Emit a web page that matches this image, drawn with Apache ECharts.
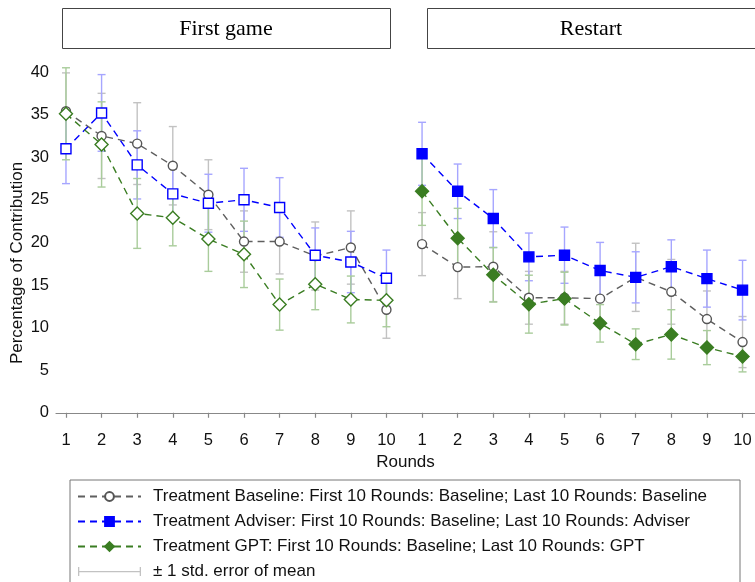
<!DOCTYPE html>
<html><head><meta charset="utf-8">
<script src="https://cdn.jsdelivr.net/npm/echarts@6/dist/echarts.min.js"></script>
<style>html,body{margin:0;padding:0;background:#fff}#c{width:755px;height:582px}</style>
</head><body><div id="c"></div>
<script>
// ---------- data ----------
const rounds = [1, 2, 3, 4, 5, 6, 7, 8, 9, 10];
const yTickValues = [0, 5, 10, 15, 20, 25, 30, 35, 40];
const panelTitles = ['First game', 'Restart'];
const seriesNames = [
  'Treatment Baseline: First 10 Rounds: Baseline; Last 10 Rounds: Baseline',
  'Treatment Adviser: First 10 Rounds: Baseline; Last 10 Rounds: Adviser',
  'Treatment GPT: First 10 Rounds: Baseline; Last 10 Rounds: GPT'
];
const errorLegendName = '± 1 std. error of mean';
const xAxisTitle = 'Rounds';
const yAxisTitle = 'Percentage of Contribution';

// First game
const baseFirst   = [35.4, 32.5, 31.6, 29.0, 25.6, 20.1, 20.1, 18.4, 19.4, 12.1];
const baseFirstSE = [4.5, 5.0, 4.8, 4.6, 4.1, 3.6, 3.8, 4.0, 4.3, 3.35];
const advFirst    = [31.0, 35.2, 29.1, 25.7, 24.6, 25.0, 24.1, 18.5, 17.7, 15.8];
const advFirstSE  = [4.1, 4.5, 4.0, 3.0, 3.4, 3.7, 3.5, 3.2, 3.6, 3.3];
const gptFirst    = [35.1, 31.5, 23.4, 22.9, 20.4, 18.6, 12.7, 15.1, 13.3, 13.2];
const gptFirstSE  = [5.4, 5.0, 4.1, 3.3, 3.8, 3.9, 3.0, 3.0, 2.75, 3.1];
// Restart
const baseRestart   = [19.8, 17.1, 17.15, 13.5, 13.5, 13.4, 15.9, 14.2, 11.0, 8.3];
const baseRestartSE = [3.7, 3.7, 4.1, 3.1, 3.1, 3.0, 4.0, 3.8, 3.3, 3.0];
const advRestart    = [30.4, 26.0, 22.8, 18.3, 18.5, 16.7, 15.9, 17.15, 15.75, 14.4];
const advRestartSE  = [3.7, 3.2, 3.4, 2.8, 3.3, 3.3, 3.0, 3.15, 3.35, 3.5];
const gptRestart    = [26.0, 20.5, 16.2, 12.75, 13.4, 10.5, 8.05, 9.2, 7.65, 6.6];
const gptRestartSE  = [4.0, 3.5, 3.2, 3.4, 3.1, 2.2, 1.8, 2.9, 2.0, 1.8];

// ---------- build ----------
const restartOffset = 10;
const xFirst = rounds;
const xRestart = rounds.map(r => r + restartOffset);
const xTickValues = xFirst.concat(xRestart);

const pts = (xs, ys) => xs.map((x, i) => [x, ys[i]]);
const errs = (xs, ys, se) => xs.map((x, i) => [x, ys[i] - se[i], ys[i] + se[i]]);

const GREY = '#5f5f5f', BLUE = '#0000ff', GREEN = '#3a7d22';
const GREY_E = '#c2c2c2', BLUE_E = '#a6a6ff', GREEN_E = '#a9cc9b';
const DASH = [7, 5];

function errSeries(name, data, color) {
  return {
    type: 'custom', name, data, z: 1, silent: true,
    itemStyle: { color },
    encode: { x: 0, y: [1, 2] },
    renderItem(params, api) {
      const x = api.value(0);
      const lo = api.coord([x, api.value(1)]);
      const hi = api.coord([x, api.value(2)]);
      const hw = 4;
      const style = { stroke: color, lineWidth: 1.4, fill: null };
      return { type: 'group', children: [
        { type: 'line', shape: { x1: lo[0], y1: lo[1], x2: hi[0], y2: hi[1] }, style },
        { type: 'line', shape: { x1: lo[0] - hw, y1: lo[1], x2: lo[0] + hw, y2: lo[1] }, style },
        { type: 'line', shape: { x1: hi[0] - hw, y1: hi[1], x2: hi[0] + hw, y2: hi[1] }, style }
      ]};
    }
  };
}
function lineSeries(name, data, color, symbol, size, filled, stroke) {
  return {
    type: 'line', name, data, symbol, symbolSize: size, showSymbol: true, z: 3,
    lineStyle: { color, width: 1.4, type: DASH },
    itemStyle: { color: filled ? color : '#fff', borderColor: stroke || color, borderWidth: 1.4 },
    emphasis: { disabled: true }
  };
}

const series = [
  errSeries(errorLegendName, errs(xFirst, baseFirst, baseFirstSE).concat(errs(xRestart, baseRestart, baseRestartSE)), GREY_E),
  errSeries('errAdv', errs(xFirst, advFirst, advFirstSE).concat(errs(xRestart, advRestart, advRestartSE)), BLUE_E),
  errSeries('errGpt', errs(xFirst, gptFirst, gptFirstSE).concat(errs(xRestart, gptRestart, gptRestartSE)), GREEN_E),
  // restart series first so the legend picks the filled markers
  lineSeries(seriesNames[0], pts(xRestart, baseRestart), GREY, 'circle', 9, false, '#555'),
  lineSeries(seriesNames[1], pts(xRestart, advRestart), BLUE, 'rect', 10, true),
  lineSeries(seriesNames[2], pts(xRestart, gptRestart), GREEN, 'diamond', 13, true),
  lineSeries(seriesNames[0], pts(xFirst, baseFirst), GREY, 'circle', 9, false, '#555'),
  lineSeries(seriesNames[1], pts(xFirst, advFirst), BLUE, 'rect', 10, false),
  lineSeries(seriesNames[2], pts(xFirst, gptFirst), GREEN, 'diamond', 13, false)
];

const FONT = 'Liberation Sans';
const chart = echarts.init(document.getElementById('c'), null, { renderer: 'canvas' });
chart.setOption({
  animation: false,
  backgroundColor: '#fff',
  grid: { left: 56, right: 0, top: 55, bottom: 159 },
  xAxis: {
    type: 'value', min: 0.72, max: 20.35,
    name: xAxisTitle, nameLocation: 'middle', nameGap: 31,
    nameTextStyle: { fontFamily: FONT, fontSize: 17, color: '#111' },
    axisLine: { show: true, lineStyle: { color: '#888', width: 1.2 } },
    axisTick: { show: true, length: 5, customValues: xTickValues, lineStyle: { color: '#888', width: 1.2 } },
    axisLabel: { customValues: xTickValues, margin: 9, fontFamily: FONT, fontSize: 16.5, color: '#111',
      formatter: v => String(v > restartOffset ? v - restartOffset : v) },
    splitLine: { show: false }
  },
  yAxis: {
    type: 'value', min: -1.2, max: 42,
    axisLine: { show: false }, axisTick: { show: false, customValues: yTickValues },
    axisLabel: { customValues: yTickValues, margin: 7, fontFamily: FONT, fontSize: 16.5, color: '#111' },
    splitLine: { show: false }
  },
  legend: {
    orient: 'vertical', left: 77, top: 488, height: 120, padding: 0,
    itemWidth: 63, itemHeight: 11, itemGap: 8,
    selectedMode: false,
    data: [
      { name: seriesNames[0] }, { name: seriesNames[1] }, { name: seriesNames[2] },
      { name: errorLegendName, icon: 'path://M0,0h1.3v9h-1.3zM0,4h63v1.2h-63zM61.7,0h1.3v9h-1.3z' }
    ],
    textStyle: { fontFamily: FONT, fontSize: 17, color: '#111', padding: [0, 0, 0, 7] }
  },
  graphic: [
    { type: 'rect', shape: { x: 70, y: 480, width: 670, height: 130 }, style: { fill: null, stroke: '#777', lineWidth: 1 }, z: -1 },
    { type: 'rect', shape: { x: 62.5, y: 8.5, width: 328, height: 40 }, style: { fill: '#fff', stroke: '#444', lineWidth: 1 } },
    { type: 'rect', shape: { x: 427.5, y: 8.5, width: 328, height: 40 }, style: { fill: '#fff', stroke: '#444', lineWidth: 1 } },
    { type: 'text', x: 226, y: 29, style: { text: panelTitles[0], fontFamily: 'Liberation Serif', fontSize: 22, fill: '#000', align: 'center', verticalAlign: 'middle' } },
    { type: 'text', x: 591, y: 29, style: { text: panelTitles[1], fontFamily: 'Liberation Serif', fontSize: 22, fill: '#000', align: 'center', verticalAlign: 'middle' } },
    { type: 'text', x: 17, y: 263, rotation: Math.PI / 2, style: { text: yAxisTitle, fontFamily: FONT, fontSize: 17, fill: '#111', align: 'center', verticalAlign: 'middle' } }
  ],
  series
});
</script></body></html>
